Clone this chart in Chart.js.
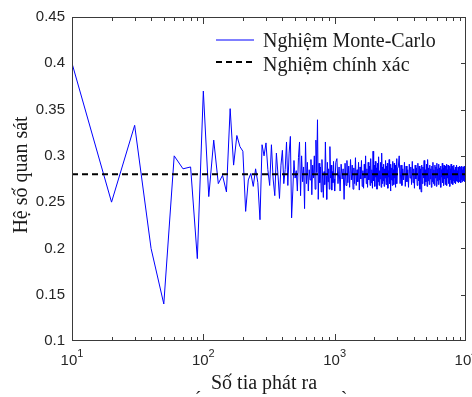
<!DOCTYPE html>
<html>
<head>
<meta charset="utf-8">
<script src="https://cdn.jsdelivr.net/npm/chart.js@4.4.1/dist/chart.umd.min.js"></script>
<style>
html,body{margin:0;padding:0;background:#fff;}
#wrap{width:472px;height:397px;position:relative;}
</style>
</head>
<body>
<div id="wrap"><canvas id="c" width="472" height="397"></canvas></div>
<script>
// ---- data ----
const seriesLabels = ['Nghiệm Monte-Carlo', 'Nghiệm chính xác'];
const xTitle = 'Số tia phát ra';
const yTitle = 'Hệ số quan sát';
const exactValue = 0.28;
const xRange = [10, 10000];
const yRange = [0.1, 0.45];
const yTickStep = 0.05;
const xTickExponents = [1, 2, 3, 4];

// Monte-Carlo estimates, N = 10, 20, ..., 1000
const seg1Start = 10, seg1Step = 10;
const seg1Values = [
  0.400, 0.250, 0.333, 0.200, 0.140, 0.300, 0.286, 0.288, 0.189, 0.370,
  0.256, 0.317, 0.270, 0.279, 0.261, 0.351, 0.290, 0.322, 0.310, 0.305,
  0.240, 0.274, 0.281, 0.267, 0.286, 0.271, 0.231, 0.312, 0.300, 0.314,
  0.285, 0.268, 0.312, 0.275, 0.257, 0.303, 0.280, 0.254, 0.290, 0.306,
  0.270, 0.285, 0.315, 0.268, 0.303, 0.321, 0.233, 0.262, 0.295, 0.276,
  0.284, 0.262, 0.298, 0.315, 0.257, 0.300, 0.272, 0.288, 0.243, 0.315,
  0.270, 0.293, 0.262, 0.285, 0.274, 0.296, 0.258, 0.290, 0.276, 0.300,
  0.264, 0.317, 0.282, 0.339, 0.253, 0.292, 0.271, 0.288, 0.261, 0.296,
  0.275, 0.255, 0.283, 0.269, 0.315, 0.278, 0.253, 0.293, 0.272, 0.286,
  0.264, 0.310, 0.276, 0.290, 0.263, 0.283, 0.271, 0.294, 0.275, 0.262
];
// N = 1020, 1040, ..., 3000
const seg2Start = 1020, seg2Step = 20;
const seg2Values = [
  0.293, 0.297, 0.270, 0.288, 0.262, 0.291, 0.275, 0.286, 0.253, 0.292,
  0.268, 0.295, 0.271, 0.289, 0.266, 0.296, 0.274, 0.290, 0.264, 0.287,
  0.270, 0.298, 0.268, 0.285, 0.272, 0.293, 0.263, 0.288, 0.275, 0.295,
  0.267, 0.284, 0.265, 0.291, 0.276, 0.300, 0.270, 0.286, 0.266, 0.293,
  0.274, 0.289, 0.268, 0.297, 0.271, 0.285, 0.265, 0.305, 0.273, 0.290,
  0.267, 0.294, 0.277, 0.287, 0.264, 0.292, 0.272, 0.299, 0.268, 0.284,
  0.275, 0.293, 0.266, 0.303, 0.270, 0.288, 0.273, 0.291, 0.267, 0.286,
  0.276, 0.295, 0.269, 0.289, 0.272, 0.292, 0.265, 0.284, 0.277, 0.296,
  0.270, 0.288, 0.262, 0.291, 0.274, 0.287, 0.268, 0.294, 0.273, 0.285,
  0.269, 0.292, 0.276, 0.289, 0.266, 0.290, 0.274, 0.297, 0.270, 0.286
];
// N = 3050, 3100, ..., 10000
const seg3Start = 3050, seg3Step = 50;
const seg3Values = [
  0.288, 0.300, 0.270, 0.290, 0.268, 0.286, 0.274, 0.293, 0.267, 0.289,
  0.272, 0.285, 0.266, 0.291, 0.276, 0.288, 0.269, 0.294, 0.271, 0.286,
  0.265, 0.290, 0.275, 0.287, 0.268, 0.292, 0.273, 0.289, 0.264, 0.286,
  0.261, 0.290, 0.270, 0.288, 0.276, 0.295, 0.268, 0.285, 0.272, 0.291,
  0.267, 0.296, 0.273, 0.287, 0.269, 0.290, 0.275, 0.286, 0.266, 0.289,
  0.272, 0.293, 0.270, 0.285, 0.268, 0.290, 0.276, 0.288, 0.267, 0.292,
  0.273, 0.286, 0.269, 0.291, 0.274, 0.287, 0.270, 0.289, 0.266, 0.285,
  0.277, 0.292, 0.271, 0.287, 0.268, 0.290, 0.275, 0.286, 0.269, 0.289,
  0.273, 0.291, 0.268, 0.285, 0.276, 0.290, 0.270, 0.287, 0.272, 0.289,
  0.267, 0.286, 0.274, 0.291, 0.270, 0.284, 0.276, 0.289, 0.269, 0.287,
  0.273, 0.290, 0.271, 0.285, 0.275, 0.288, 0.270, 0.286, 0.273, 0.290,
  0.272, 0.284, 0.276, 0.288, 0.271, 0.286, 0.274, 0.289, 0.272, 0.285,
  0.277, 0.288, 0.271, 0.286, 0.274, 0.289, 0.272, 0.285, 0.276, 0.288,
  0.273, 0.286, 0.275, 0.289, 0.272, 0.285, 0.276, 0.287, 0.274, 0.284
];

// ---- build table ----
function seg(start, step, vals) {
  return vals.map((v, i) => ({ x: start + i * step, y: v }));
}
const mcPoints = [].concat(
  seg(seg1Start, seg1Step, seg1Values),
  seg(seg2Start, seg2Step, seg2Values),
  seg(seg3Start, seg3Step, seg3Values)
);
const exactPoints = [{ x: xRange[0], y: exactValue }, { x: xRange[1], y: exactValue }];

const SERIF = '"Liberation Serif", "Times New Roman", serif';
const SANS = '"Liberation Sans", Arial, sans-serif';
const BLUE = '#0000ff';
const AXIS = '#3a3a3a';
const TEXT = '#1a1a1a';

const decor = {
  id: 'decor',
  afterDraw(chart) {
    const ctx = chart.ctx;
    const a = chart.chartArea;
    const xs = chart.scales.x, ys = chart.scales.y;
    ctx.save();
    // frame
    ctx.strokeStyle = AXIS;
    ctx.lineWidth = 1;
    ctx.strokeRect(Math.round(a.left) + 0.5, Math.round(a.top) + 0.5,
                   Math.round(a.right - a.left) - 1, Math.round(a.bottom - a.top) - 1);
    // x ticks (top and bottom, inward)
    ctx.beginPath();
    for (let e = 1; e <= 4; e++) {
      for (let m = 1; m <= 9; m++) {
        const v = m * Math.pow(10, e);
        if (v > xRange[1]) break;
        if (m === 1 && (e === 1 || e === 4)) continue;
        const px = Math.round(xs.getPixelForValue(v)) + 0.5;
        const len = m === 1 ? 7 : 4;
        ctx.moveTo(px, a.bottom); ctx.lineTo(px, a.bottom - len);
        ctx.moveTo(px, a.top); ctx.lineTo(px, a.top + len);
      }
    }
    // y ticks on right, inward
    for (let v = yRange[0] + yTickStep; v < yRange[1] - 1e-9; v += yTickStep) {
      const py = Math.round(ys.getPixelForValue(v)) + 0.5;
      ctx.moveTo(a.right, py); ctx.lineTo(a.right - 5, py);
    }
    ctx.stroke();

    // x tick labels 10^k
    ctx.fillStyle = '#262626';
    ctx.textBaseline = 'alphabetic';
    ctx.textAlign = 'left';
    xTickExponents.forEach(k => {
      const px = xs.getPixelForValue(Math.pow(10, k));
      ctx.font = '15px ' + SANS;
      const w1 = ctx.measureText('10').width;
      ctx.font = '11px ' + SANS;
      const w2 = ctx.measureText(String(k)).width;
      const x0 = px - (w1 + w2) / 2;
      ctx.font = '15px ' + SANS;
      ctx.fillText('10', x0, 365);
      ctx.font = '11px ' + SANS;
      ctx.fillText(String(k), x0 + w1, 357);
    });

    // axis titles
    ctx.fillStyle = TEXT;
    ctx.font = '20px ' + SERIF;
    ctx.textAlign = 'center';
    ctx.fillText(xTitle, 264, 389);
    ctx.fillText('\u00B4', 198, 406);
    ctx.fillText('`', 344, 406);
    ctx.save();
    ctx.translate(22, 175);
    ctx.rotate(-Math.PI / 2);
    ctx.textBaseline = 'middle';
    ctx.fillText(yTitle, 0, 0);
    ctx.restore();

    // legend
    const rows = [{ y: 40, ds: chart.data.datasets[1], base: 47 }, { y: 62, ds: chart.data.datasets[0], base: 71 }];
    rows.forEach(r => {
      ctx.beginPath();
      ctx.strokeStyle = r.ds.borderColor;
      ctx.lineWidth = r.ds.borderWidth;
      ctx.setLineDash(r.ds.borderDash || []);
      ctx.moveTo(216, r.y); ctx.lineTo(254, r.y);
      ctx.stroke();
      ctx.setLineDash([]);
      ctx.fillStyle = TEXT;
      ctx.font = '20px ' + SERIF;
      ctx.textAlign = 'left';
      ctx.textBaseline = 'alphabetic';
      ctx.fillText(r.ds.label, 263, r.base);
    });
    ctx.restore();
  }
};

new Chart(document.getElementById('c'), {
  type: 'line',
  data: {
    datasets: [
      {
        label: seriesLabels[1],
        data: exactPoints,
        borderColor: '#000000',
        borderWidth: 2,
        borderDash: [6, 4],
        pointRadius: 0,
        order: 0
      },
      {
        label: seriesLabels[0],
        data: mcPoints,
        borderColor: BLUE,
        borderWidth: 1,
        pointRadius: 0,
        tension: 0,
        order: 1
      }
    ]
  },
  options: {
    responsive: false,
    animation: false,
    events: [],
    layout: { padding: { left: 0, right: 6, top: 17, bottom: 0 } },
    plugins: { legend: { display: false }, tooltip: { enabled: false } },
    scales: {
      x: {
        type: 'logarithmic',
        min: xRange[0], max: xRange[1],
        grid: { display: false, drawTicks: false },
        border: { display: false },
        ticks: { display: false },
        afterFit(s) { s.height = 56; }
      },
      y: {
        type: 'linear',
        min: yRange[0], max: yRange[1],
        grid: { display: false, drawTicks: false },
        border: { display: false },
        ticks: {
          stepSize: yTickStep,
          padding: 7,
          color: '#262626',
          font: { family: SANS, size: 15 },
          callback: v => String(Number(v.toFixed(2)))
        },
        afterFit(s) { s.width = 72; }
      }
    }
  },
  plugins: [decor]
});
</script>
</body>
</html>
